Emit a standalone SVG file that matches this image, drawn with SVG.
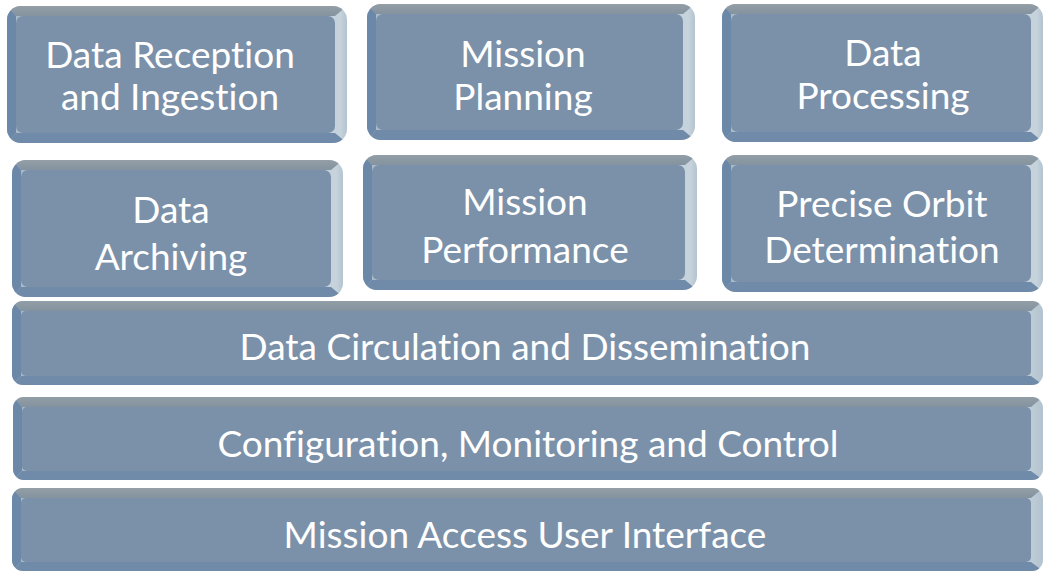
<svg xmlns="http://www.w3.org/2000/svg" width="1044" height="571" viewBox="0 0 1044 571">
  <style>
    .rim { fill: url(#rimGrad); }
    .top { fill: url(#topGrad); }
    .left { fill: #6b88a8; }
    .bot { fill: #6f8ba9; }
    .face { fill: #7b91a9; }
    .lbl { font-family: Lato, "Liberation Sans", sans-serif; font-size: 37px; fill: #ffffff; text-anchor: middle; font-variant-ligatures: none; }
  </style>
  <defs>
    <linearGradient id="topGrad" x1="0" y1="0" x2="0" y2="1">
      <stop offset="0" stop-color="#939ea6"/>
      <stop offset="1" stop-color="#84939f"/>
    </linearGradient>
    <linearGradient id="rimGrad" x1="0" y1="0" x2="1" y2="0">
      <stop offset="0" stop-color="#a8bac8"/>
      <stop offset="0.98" stop-color="#c6d3dc"/>
      <stop offset="1" stop-color="#b3c3cf"/>
    </linearGradient>
    <clipPath id="c1"><rect x="7" y="6" width="340" height="137" rx="14"/></clipPath>
    <clipPath id="c2"><rect x="367" y="4" width="328" height="136" rx="14"/></clipPath>
    <clipPath id="c3"><rect x="722" y="4" width="321" height="138" rx="14"/></clipPath>
    <clipPath id="c4"><rect x="12" y="160" width="331" height="137" rx="14"/></clipPath>
    <clipPath id="c5"><rect x="363" y="155" width="334" height="135" rx="14"/></clipPath>
    <clipPath id="c6"><rect x="722" y="155" width="321" height="137" rx="14"/></clipPath>
    <clipPath id="c7"><rect x="12" y="301" width="1031" height="84" rx="11"/></clipPath>
    <clipPath id="c8"><rect x="13" y="397" width="1030" height="83" rx="11"/></clipPath>
    <clipPath id="c9"><rect x="12" y="488" width="1031" height="83" rx="11"/></clipPath>
  </defs>

  <rect width="1044" height="571" fill="#ffffff"/>

  <!-- upper row -->
  <g id="data-reception">
    <g clip-path="url(#c1)">
      <rect class="rim" x="7" y="6" width="340" height="137"/>
      <path class="top" d="M7,6 H347 L335,16 H16 Z"/>
      <path class="left" d="M7,6 L16,16 V133 L7,143 Z"/>
      <path class="bot" d="M7,143 L16,133 H335 L347,143 Z"/>
      <rect class="face" x="16" y="16" width="319" height="117" rx="7"/>
    </g>
    <text class="lbl" x="170" y="68">Data Reception</text>
    <text class="lbl" x="170" y="110">and Ingestion</text>
  </g>

  <g id="mission-planning">
    <g clip-path="url(#c2)">
      <rect class="rim" x="367" y="4" width="328" height="136"/>
      <path class="top" d="M367,4 H695 L683,14 H376 Z"/>
      <path class="left" d="M367,4 L376,14 V130 L367,140 Z"/>
      <path class="bot" d="M367,140 L376,130 H683 L695,140 Z"/>
      <rect class="face" x="376" y="14" width="307" height="116" rx="7"/>
    </g>
    <text class="lbl" x="523" y="67">Mission</text>
    <text class="lbl" x="523" y="110">Planning</text>
  </g>

  <g id="data-processing">
    <g clip-path="url(#c3)">
      <rect class="rim" x="722" y="4" width="321" height="138"/>
      <path class="top" d="M722,4 H1043 L1031,14 H731 Z"/>
      <path class="left" d="M722,4 L731,14 V132 L722,142 Z"/>
      <path class="bot" d="M722,142 L731,132 H1031 L1043,142 Z"/>
      <rect class="face" x="731" y="14" width="300" height="118" rx="7"/>
    </g>
    <text class="lbl" x="883" y="66">Data</text>
    <text class="lbl" x="883" y="109">Processing</text>
  </g>

  <!-- middle row -->
  <g id="data-archiving">
    <g clip-path="url(#c4)">
      <rect class="rim" x="12" y="160" width="331" height="137"/>
      <path class="top" d="M12,160 H343 L331,170 H21 Z"/>
      <path class="left" d="M12,160 L21,170 V287 L12,297 Z"/>
      <path class="bot" d="M12,297 L21,287 H331 L343,297 Z"/>
      <rect class="face" x="21" y="170" width="310" height="117" rx="7"/>
    </g>
    <text class="lbl" x="171" y="223">Data</text>
    <text class="lbl" x="171" y="270">Archiving</text>
  </g>

  <g id="mission-performance">
    <g clip-path="url(#c5)">
      <rect class="rim" x="363" y="155" width="334" height="135"/>
      <path class="top" d="M363,155 H697 L685,165 H372 Z"/>
      <path class="left" d="M363,155 L372,165 V280 L363,290 Z"/>
      <path class="bot" d="M363,290 L372,280 H685 L697,290 Z"/>
      <rect class="face" x="372" y="165" width="313" height="115" rx="7"/>
    </g>
    <text class="lbl" x="525" y="215">Mission</text>
    <text class="lbl" x="525" y="263">Performance</text>
  </g>

  <g id="precise-orbit">
    <g clip-path="url(#c6)">
      <rect class="rim" x="722" y="155" width="321" height="137"/>
      <path class="top" d="M722,155 H1043 L1031,165 H731 Z"/>
      <path class="left" d="M722,155 L731,165 V282 L722,292 Z"/>
      <path class="bot" d="M722,292 L731,282 H1031 L1043,292 Z"/>
      <rect class="face" x="731" y="165" width="300" height="117" rx="7"/>
    </g>
    <text class="lbl" x="882" y="217">Precise Orbit</text>
    <text class="lbl" x="882" y="263">Determination</text>
  </g>

  <!-- full-width layers -->
  <g id="data-circulation">
    <g clip-path="url(#c7)">
      <rect class="rim" x="12" y="301" width="1031" height="84"/>
      <path class="top" d="M12,301 H1043 L1031,311 H21 Z"/>
      <path class="left" d="M12,301 L21,311 V376 L12,385 Z"/>
      <path class="bot" d="M12,385 L21,376 H1031 L1043,385 Z"/>
      <rect class="face" x="21" y="311" width="1010" height="65" rx="5"/>
    </g>
    <text class="lbl" x="525" y="360">Data Circulation and Dissemination</text>
  </g>

  <g id="configuration">
    <g clip-path="url(#c8)">
      <rect class="rim" x="13" y="397" width="1030" height="83"/>
      <path class="top" d="M13,397 H1043 L1031,407 H22 Z"/>
      <path class="left" d="M13,397 L22,407 V471 L13,480 Z"/>
      <path class="bot" d="M13,480 L22,471 H1031 L1043,480 Z"/>
      <rect class="face" x="22" y="407" width="1009" height="64" rx="5"/>
    </g>
    <text class="lbl" x="528" y="457">Configuration, Monitoring and Control</text>
  </g>

  <g id="mission-access">
    <g clip-path="url(#c9)">
      <rect class="rim" x="12" y="488" width="1031" height="83"/>
      <path class="top" d="M12,488 H1043 L1031,498 H21 Z"/>
      <path class="left" d="M12,488 L21,498 V562 L12,571 Z"/>
      <path class="bot" d="M12,571 L21,562 H1031 L1043,571 Z"/>
      <rect class="face" x="21" y="498" width="1010" height="64" rx="5"/>
    </g>
    <text class="lbl" x="525" y="548">Mission Access User Interface</text>
  </g>

  <g id="connectors"/>
</svg>
